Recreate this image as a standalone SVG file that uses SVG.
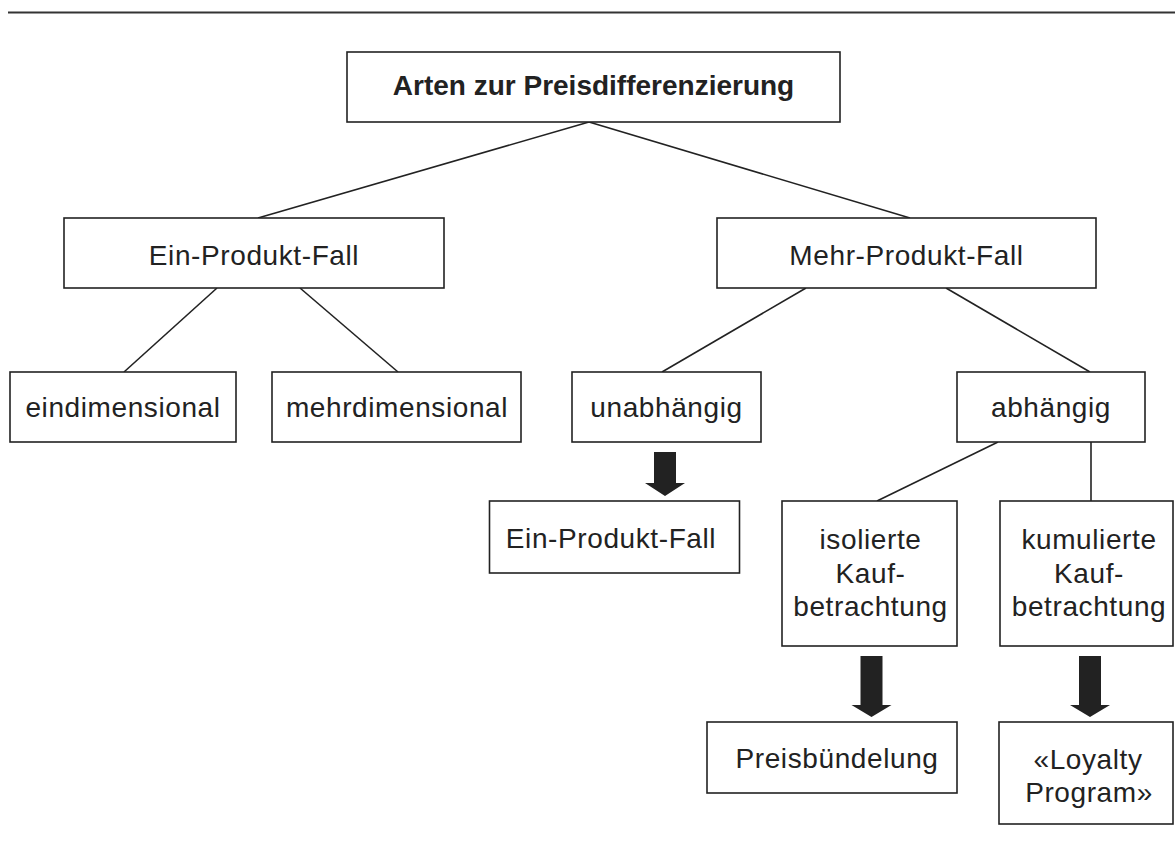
<svg xmlns="http://www.w3.org/2000/svg" width="1175" height="863" viewBox="0 0 1175 863">
<style>
.box{fill:#fff;stroke:#222;stroke-width:1.6}
.t{font-family:"Liberation Sans",Arial,sans-serif;font-size:28px;fill:#222;text-anchor:middle;letter-spacing:0.6px}
.tb{font-family:"Liberation Sans",Arial,sans-serif;font-size:28px;font-weight:bold;fill:#222;text-anchor:middle}
.c{stroke:#222;stroke-width:1.6;fill:none}
.arrow{fill:#222}
</style>
<rect width="1175" height="863" fill="#fff"/>
<line x1="8" y1="12.5" x2="1175" y2="12.5" stroke="#333" stroke-width="2"/>
<g id="connectors">
<line class="c" x1="589" y1="122" x2="258" y2="218"/>
<line class="c" x1="589" y1="122" x2="910" y2="218"/>
<line class="c" x1="217" y1="288" x2="124" y2="372"/>
<line class="c" x1="300" y1="288" x2="398" y2="372"/>
<line class="c" x1="806" y1="288" x2="662" y2="372"/>
<line class="c" x1="946" y1="288" x2="1090" y2="372"/>
<line class="c" x1="998" y1="442" x2="877" y2="501"/>
<line class="c" x1="1091" y1="442" x2="1091" y2="501"/>
<path class="arrow" d="M654,452 H676 V483 H685 L665,496 L645,483 H654 Z"/>
<path class="arrow" d="M860.5,656 H882.5 V705 H891.5 L871.5,717 L851.5,705 H860.5 Z"/>
<path class="arrow" d="M1079,656 H1101 V705 H1110 L1090,717 L1070,705 H1079 Z"/>
</g>
<g id="root">
<rect class="box" x="347" y="52" width="493" height="70"/>
<text class="tb" x="593.5" y="95">Arten zur Preisdifferenzierung</text>
</g>
<g id="ein">
<rect class="box" x="64" y="218" width="380" height="70"/>
<text class="t" x="254" y="265">Ein-Produkt-Fall</text>
</g>
<g id="mehr">
<rect class="box" x="717" y="218" width="379" height="70"/>
<text class="t" x="906.5" y="265">Mehr-Produkt-Fall</text>
</g>
<g id="eindim">
<rect class="box" x="10" y="372" width="226" height="70"/>
<text class="t" x="123" y="417">eindimensional</text>
</g>
<g id="mehrdim">
<rect class="box" x="272" y="372" width="249" height="70"/>
<text class="t" x="397" y="417">mehrdimensional</text>
</g>
<g id="unab">
<rect class="box" x="572" y="372" width="189" height="70"/>
<text class="t" x="666.5" y="417">unabhängig</text>
</g>
<g id="ab">
<rect class="box" x="957" y="372" width="188" height="70"/>
<text class="t" x="1051" y="417">abhängig</text>
</g>
<g id="ein2">
<rect class="box" x="489.5" y="501" width="250" height="72"/>
<text class="t" x="611" y="548">Ein-Produkt-Fall</text>
</g>
<g id="iso">
<rect class="box" x="782" y="501" width="175" height="145"/>
<text class="t" x="870.5" y="549">isolierte</text>
<text class="t" x="870.5" y="583">Kauf-</text>
<text class="t" x="870.5" y="616">betrachtung</text>
</g>
<g id="kum">
<rect class="box" x="1000" y="501" width="173" height="145"/>
<text class="t" x="1089" y="549">kumulierte</text>
<text class="t" x="1089" y="583">Kauf-</text>
<text class="t" x="1089" y="616">betrachtung</text>
</g>
<g id="preis">
<rect class="box" x="707" y="722" width="250" height="71"/>
<text class="t" x="837" y="768">Preisbündelung</text>
</g>
<g id="loyalty">
<rect class="box" x="999" y="722" width="174" height="102"/>
<text class="t" x="1088" y="769">«Loyalty</text>
<text class="t" x="1089" y="802">Program»</text>
</g>
</svg>
